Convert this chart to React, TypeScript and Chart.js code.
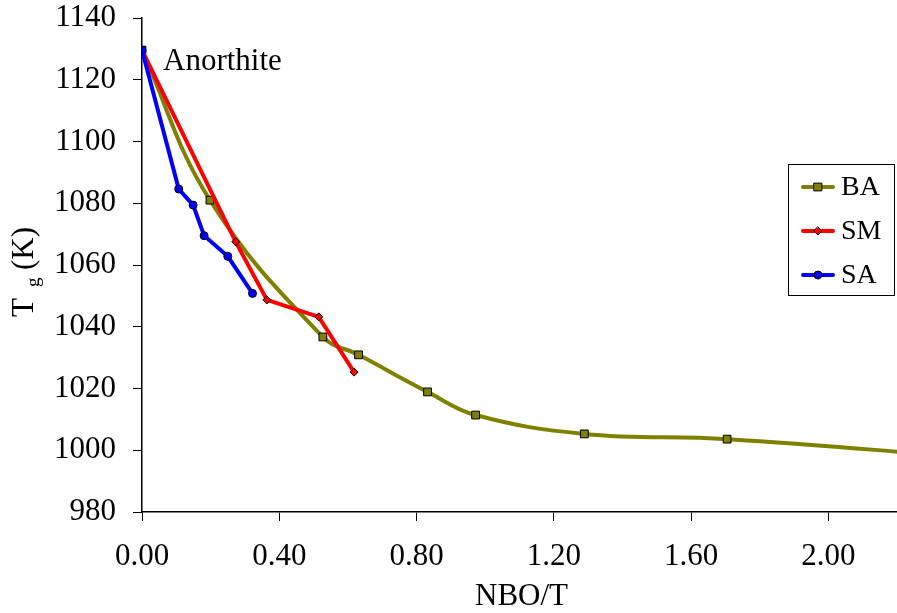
import React, { useEffect, useRef } from "react";
import { Chart, registerables } from "chart.js";

Chart.register(...registerables);

// ---- data ----
const seriesNames = ["BA", "SM", "SA"];
const baX = [0, 0.198, 0.527, 0.631, 0.832, 0.972, 1.289, 1.705, 2.4];
const baY = [1129.6, 1081.0, 1036.7, 1030.9, 1018.9, 1011.4, 1005.3, 1003.6, 997.8];
const smX = [0, 0.273, 0.364, 0.515, 0.618];
const smY = [1129.6, 1067.5, 1048.7, 1043.2, 1025.3];
const saX = [0, 0.107, 0.149, 0.181, 0.25, 0.322];
const saY = [1129.6, 1084.6, 1079.4, 1069.5, 1062.8, 1050.8];
const xTickStep = 0.4;
const yTickStep = 20;
const xRange = [0, 2.2];
const yRange = [980, 1140];
const annotationText = "Anorthite";
const xTitle = "NBO/T";
const yTitleMain = "T";
const yTitleSub = "g";
const yTitleUnit = "(K)";

const FONT = "'Liberation Serif', 'Times New Roman', serif";
const colors = ["#808000", "#FF0000", "#0000FF"];
const styles = ["rect", "rectRot", "circle"];
const radii = [5.5, 4, 4];

const toPts = (xs: number[], ys: number[]) => xs.map((x, i) => ({ x, y: ys[i] }));

function drawMarker(ctx: CanvasRenderingContext2D, style: string, x: number, y: number, r: number, fill: string) {
  ctx.save();
  ctx.beginPath();
  if (style === "rect") {
    const s = Math.SQRT1_2 * r;
    ctx.rect(x - s, y - s, 2 * s, 2 * s);
  } else if (style === "rectRot") {
    ctx.moveTo(x, y - r);
    ctx.lineTo(x + r, y);
    ctx.lineTo(x, y + r);
    ctx.lineTo(x - r, y);
    ctx.closePath();
  } else {
    ctx.arc(x, y, r, 0, Math.PI * 2);
  }
  ctx.fillStyle = fill;
  ctx.fill();
  ctx.lineWidth = 1;
  ctx.strokeStyle = "#000";
  ctx.stroke();
  ctx.restore();
}

const overlayPlugin = {
  id: "overlay",
  afterDraw(chart: any) {
    const { ctx, chartArea, scales } = chart;
    const xs = scales.x;
    const ys = scales.y;
    ctx.save();
    ctx.fillStyle = "#000";
    // annotation
    ctx.font = `31px ${FONT}`;
    ctx.textAlign = "left";
    ctx.textBaseline = "alphabetic";
    ctx.fillText(annotationText, xs.getPixelForValue(baX[0]) + 21, ys.getPixelForValue(baY[0]) + 20);
    // x title
    ctx.textAlign = "center";
    ctx.fillText(xTitle, (chartArea.left + chartArea.right) / 2 + 2, chartArea.bottom + 93);
    // y title (rotated)
    const cy = (chartArea.top + chartArea.bottom) / 2;
    ctx.translate(33, cy + 52);
    ctx.rotate(-Math.PI / 2);
    ctx.textAlign = "left";
    ctx.font = `31px ${FONT}`;
    ctx.fillText(yTitleMain, 0, 0);
    ctx.font = `19px ${FONT}`;
    ctx.fillText(yTitleSub, 30, 6);
    ctx.font = `31px ${FONT}`;
    ctx.fillText(yTitleUnit, 47, 0);
    ctx.restore();

    // legend
    ctx.save();
    const boxL = 788.5, boxT = 164.5, boxW = 106, boxH = 131;
    ctx.fillStyle = "#fff";
    ctx.fillRect(boxL, boxT, boxW, boxH);
    ctx.strokeStyle = "#000";
    ctx.lineWidth = 1;
    ctx.strokeRect(boxL, boxT, boxW, boxH);
    chart.data.datasets.forEach((ds: any, i: number) => {
      const y = 187 + i * 44;
      ctx.beginPath();
      ctx.moveTo(803, y);
      ctx.lineTo(833, y);
      ctx.strokeStyle = ds.borderColor;
      ctx.lineWidth = 4;
      ctx.lineCap = "round";
      ctx.stroke();
      drawMarker(ctx, ds.pointStyle, 818, y, ds.pointRadius, ds.pointBackgroundColor);
      ctx.fillStyle = "#000";
      ctx.font = `28px ${FONT}`;
      ctx.textAlign = "left";
      ctx.textBaseline = "middle";
      ctx.fillText(ds.label, 841, y + 1);
    });
    ctx.restore();
  },
};

export default function App() {
  const ref = useRef<HTMLCanvasElement | null>(null);
  useEffect(() => {
    if (!ref.current) return;
    const allX = [baX, smX, saX];
    const allY = [baY, smY, saY];
    const datasets = seriesNames.map((name, i) => ({
      label: name,
      data: toPts(allX[i], allY[i]),
      borderColor: colors[i],
      backgroundColor: colors[i],
      pointBackgroundColor: colors[i],
      pointBorderColor: "#000",
      pointBorderWidth: 1,
      pointStyle: styles[i],
      pointRadius: radii[i],
      borderWidth: 4,
      tension: i === 0 ? 0.4 : 0,
      order: 3 - i,
      clip: 0,
    }));
    const tickFont = { family: FONT, size: 31 };
    const chart = new Chart(ref.current, {
      type: "line",
      data: { datasets },
      options: {
        animation: false,
        responsive: true,
        maintainAspectRatio: false,
        layout: { autoPadding: false, padding: { top: 18, right: 0, left: 0, bottom: 0 } },
        plugins: { legend: { display: false }, tooltip: { enabled: false } },
        scales: {
          x: {
            type: "linear",
            min: xRange[0],
            max: xRange[1],
            afterFit: (s: any) => { s.height = 101; s.paddingLeft = 0; s.paddingRight = 0; },
            ticks: {
              stepSize: xTickStep,
              includeBounds: false,
              autoSkip: false,
              maxRotation: 0,
              padding: 17,
              color: "#000",
              font: tickFont,
              callback: (v: any) => Number(v).toFixed(2),
            },
            grid: { display: true, drawOnChartArea: false, drawTicks: true, tickLength: 9, color: "#000", lineWidth: 1 },
            border: { display: true, color: "#000", width: 1.5 },
          },
          y: {
            type: "linear",
            min: yRange[0],
            max: yRange[1],
            afterFit: (s: any) => { s.width = 142; s.paddingTop = 0; s.paddingBottom = 0; },
            ticks: {
              stepSize: yTickStep,
              autoSkip: false,
              padding: 17,
              color: "#000",
              font: tickFont,
              callback: (v: any) => String(v),
            },
            grid: { display: true, drawOnChartArea: false, drawTicks: true, tickLength: 9, color: "#000", lineWidth: 1 },
            border: { display: true, color: "#000", width: 1.5 },
          },
        },
      },
      plugins: [overlayPlugin],
    } as any);
    return () => chart.destroy();
  }, []);
  return (
    <div style={{ position: "fixed", left: 0, top: 0, width: "897px", height: "613px", background: "#fff" }}>
      <canvas ref={ref} />
    </div>
  );
}
